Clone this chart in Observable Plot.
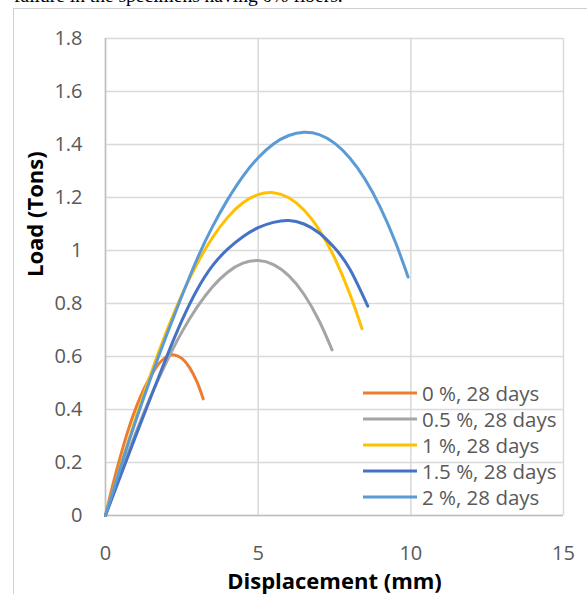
<!DOCTYPE html>
<html>
<head>
<meta charset="utf-8">
<script src="https://cdn.jsdelivr.net/npm/d3@7"></script>
<script src="https://cdn.jsdelivr.net/npm/@observablehq/plot@0.6"></script>
<style>
  body { margin: 0; background: #fff; }
  #wrap { position: relative; width: 587px; height: 594px; overflow: hidden; background: #fff; }
  #toptext { position: absolute; left: 14px; top: -14px; font-family: "Liberation Serif", serif; font-size: 19.5px; line-height: 1; color: #000; white-space: nowrap; }
  #frame { position: absolute; left: 13px; top: 8px; width: 700px; height: 700px; border-left: 1px solid #d0d0d0; border-top: 1px solid #d0d0d0; }
  #chart { position: absolute; left: 0; top: 0; }
  #legend { position: absolute; left: 362px; top: 380px; font-family: "Open Sans", sans-serif; font-size: 20.5px; color: #595959; }
  #legend .row { display: flex; align-items: center; height: 26px; }
  #legend svg { margin-right: 4px; }
</style>
</head>
<body>
<div id="wrap">
  <div id="toptext">failure in the specimens having 0% fibers.</div>
  <div id="frame"></div>
  <div id="chart"></div>
  <div id="legend"></div>
</div>
<script>
// Series names and colours
const seriesNames = ["0 %, 28 days", "0.5 %, 28 days", "1 %, 28 days", "1.5 %, 28 days", "2 %, 28 days"];
const seriesColors = ["#ED7D31", "#A5A5A5", "#FFC000", "#4472C4", "#5B9BD5"];

// 0 % fibres
const disp0 = [0, 0.25, 0.5, 0.75, 1.0, 1.25, 1.5, 1.75, 2.0, 2.25, 2.5, 2.75, 3.0, 3.2];
const load0 = [0, 0.12, 0.228, 0.325, 0.407, 0.475, 0.53, 0.573, 0.599, 0.606, 0.593, 0.559, 0.503, 0.44];
// 0.5 % fibres
const disp05 = [0, 0.5, 1.0, 1.5, 2.0, 2.5, 3.0, 3.5, 4.0, 4.5, 5.0, 5.5, 6.0, 6.5, 7.0, 7.42];
const load05 = [0, 0.162, 0.314, 0.454, 0.58, 0.692, 0.786, 0.862, 0.918, 0.952, 0.962, 0.947, 0.905, 0.835, 0.734, 0.625];
// 1 % fibres
const disp1 = [0, 0.5, 1.0, 1.5, 2.0, 2.5, 3.0, 3.5, 4.0, 4.5, 5.0, 5.5, 6.0, 6.5, 7.0, 7.5, 8.0, 8.4];
const load1 = [0, 0.19, 0.37, 0.54, 0.695, 0.833, 0.95, 1.048, 1.125, 1.18, 1.211, 1.218, 1.199, 1.153, 1.078, 0.973, 0.837, 0.705];
// 1.5 % fibres
const disp15 = [0, 0.5, 1.0, 1.5, 2.0, 2.5, 3.0, 3.5, 4.0, 4.5, 5.0, 5.5, 6.0, 6.5, 7.0, 7.5, 8.0, 8.59];
const load15 = [0, 0.152, 0.303, 0.452, 0.598, 0.735, 0.852, 0.942, 1.005, 1.052, 1.086, 1.106, 1.113, 1.1, 1.066, 1.01, 0.93, 0.79];
// 2 % fibres
const disp2 = [0, 0.5, 1.0, 1.5, 2.0, 2.5, 3.0, 3.5, 4.0, 4.5, 5.0, 5.5, 6.0, 6.5, 7.0, 7.5, 8.0, 8.5, 9.0, 9.5, 9.91];
const load2 = [0, 0.185, 0.36, 0.525, 0.68, 0.828, 0.968, 1.089, 1.192, 1.28, 1.35, 1.402, 1.434, 1.446, 1.437, 1.405, 1.349, 1.269, 1.163, 1.03, 0.9];

// Axis ticks
const xTicks = [0, 5, 10, 15];
const xTickLabels = ["0", "5", "10", "15"];
const yTicks = [0, 0.2, 0.4, 0.6, 0.8, 1.0, 1.2, 1.4, 1.6, 1.8];
const yTickLabels = ["0", "0.2", "0.4", "0.6", "0.8", "1", "1.2", "1.4", "1.6", "1.8"];
const xTitle = "Displacement (mm)";
const yTitle = "Load (Tons)";

const allDisp = [disp0, disp05, disp1, disp15, disp2];
const allLoad = [load0, load05, load1, load15, load2];
const rows = [];
allDisp.forEach((ds, i) => ds.forEach((d, j) => rows.push({series: seriesNames[i], x: d, y: allLoad[i][j]})));

const plot = Plot.plot({
  width: 587,
  height: 594,
  marginLeft: 105,
  marginRight: 24,
  marginTop: 38,
  marginBottom: 79,
  style: {background: "transparent", fontFamily: "'Open Sans', sans-serif", fontSize: "20px", color: "#595959"},
  x: {domain: [0, 15]},
  y: {domain: [0, 1.8]},
  color: {domain: seriesNames, range: seriesColors},
  marks: [
    Plot.gridX(xTicks, {stroke: "#d9d9d9", strokeOpacity: 1, strokeWidth: 1.5}),
    Plot.gridY(yTicks, {stroke: "#d9d9d9", strokeOpacity: 1, strokeWidth: 1.5}),
    Plot.ruleX([0], {stroke: "#bfbfbf", strokeWidth: 1.5}),
    Plot.ruleY([0], {stroke: "#bfbfbf", strokeWidth: 1.5}),
    Plot.axisX(xTicks, {tickSize: 0, tickPadding: 30, tickFormat: (d) => xTickLabels[xTicks.indexOf(d)], label: null, fill: "#595959"}),
    Plot.axisY(yTicks, {tickSize: 0, tickPadding: 23, tickFormat: (d) => yTickLabels[yTicks.indexOf(d)], label: null, fill: "#595959"}),
    Plot.line(rows, {x: "x", y: "y", z: "series", stroke: "series", strokeWidth: 3, curve: "natural"}),
    Plot.text([xTitle], {frameAnchor: "bottom", dy: 73, fontWeight: "bold", fontSize: 22, fill: "#000"}),
    Plot.text([yTitle], {frameAnchor: "left", dx: -70, rotate: -90, fontWeight: "bold", fontSize: 22, fill: "#000"})
  ]
});
document.getElementById("chart").appendChild(plot);

const legend = document.getElementById("legend");
seriesNames.forEach((name, i) => {
  const row = document.createElement("div");
  row.className = "row";
  row.innerHTML = `<svg width="56" height="6"><line x1="1" y1="3" x2="55" y2="3" stroke="${seriesColors[i]}" stroke-width="3"/></svg><span>${name}</span>`;
  legend.appendChild(row);
});
</script>
</body>
</html>
